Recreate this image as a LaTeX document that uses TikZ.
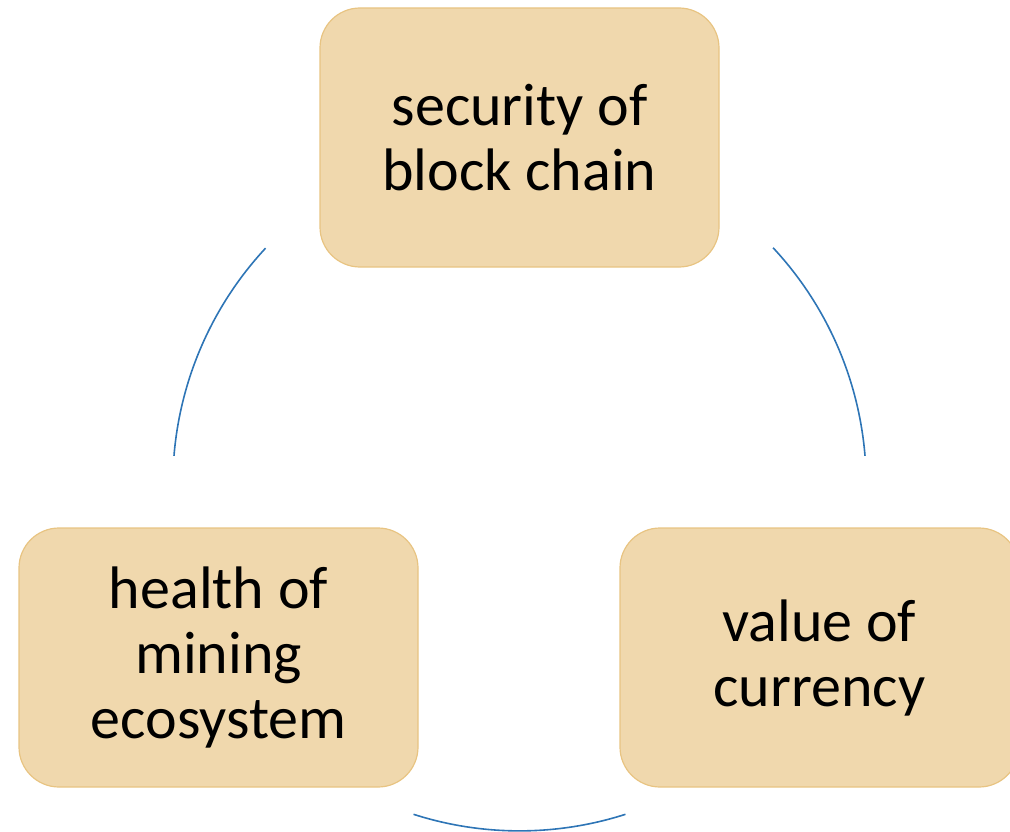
\documentclass[tikz,border=0pt]{standalone}
\usepackage{fontspec}
\setmainfont{Carlito}
\usepackage{tikz}
\usetikzlibrary{calc, positioning}
\definecolor{boxfill}{RGB}{240,216,173}
\definecolor{boxline}{RGB}{232,196,130}
\definecolor{ringblue}{RGB}{46,117,182}
\tikzstyle{cyclebox} = [rectangle, rounded corners=40pt, minimum width=399pt, minimum height=259pt, text centered, align=center, draw=boxline, line width=1.2pt, fill=boxfill, font=\fontsize{60}{65}\selectfont]
\tikzstyle{ring} = [draw=ringblue, line width=1.6pt]
\begin{document}
\begin{tikzpicture}[x=1pt, y=1pt]
			\useasboundingbox (0,-832) rectangle (1010,0);
			\clip (0,-832) rectangle (1010,0);
			\coordinate (hub) at (519.5,-484.2);
			\node (security) [cyclebox] at (519.5,-137.5) {security of\\block chain};
			\node (value) [cyclebox] at (819.5,-657.5) {value of\\currency};
			\node (health) [cyclebox] at (218.5,-657.5) {health of\\mining\\ecosystem};
			
			%arcs
			\draw [ring] ([shift={(43:346.7)}]hub) arc[start angle=43, end angle=4.7, radius=346.7];
			\draw [ring] ([shift={(287.8:346.7)}]hub) arc[start angle=287.8, end angle=252.2, radius=346.7];
			\draw [ring] ([shift={(175.3:346.7)}]hub) arc[start angle=175.3, end angle=137.1, radius=346.7];
			
		\end{tikzpicture}
\end{document}
